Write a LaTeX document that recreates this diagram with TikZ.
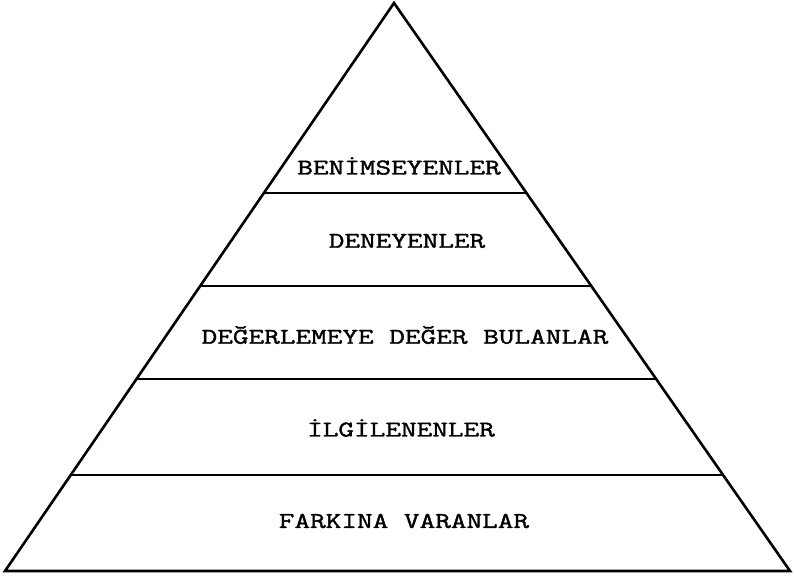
\documentclass[tikz,border=0pt]{standalone}
\usepackage{fontspec}
\usetikzlibrary{calc}
% a wide, slightly heavy typewriter face for the tier labels
\newfontfamily\tierfont{Latin Modern Mono}[FakeStretch=1.35, FakeBold=1.6]
\tikzset{
  edge/.style={line width=2.6pt, line join=miter},
  band/.style={line width=2.3pt},
  tier/.style={font=\tierfont\fontsize{22.5}{22.5}\selectfont, inner sep=0pt, anchor=center}
}
\begin{document}
\begin{tikzpicture}[x=1pt, y=-1pt]
  \useasboundingbox (0,0) rectangle (794,577);
  % outline of the pyramid
  \coordinate (apex) at (394,3);
  \coordinate (bl) at (5,571);
  \coordinate (br) at (790,571);
  \draw[edge] (bl) -- (apex) -- (br) -- cycle;
  % dividing lines between the tiers
  \foreach \t/\n in {0.3345/a, 0.4982/b, 0.662/c, 0.831/d} {
    \coordinate (l\n) at ($(apex)!\t!(bl)$);
    \coordinate (r\n) at ($(apex)!\t!(br)$);
    \draw[band] (l\n) -- (r\n);
  }
  % tier labels
  \node[tier] (t1) at (399,166) {BENİMSEYENLER};
  \node[tier] (t2) at (407,241) {DENEYENLER};
  \node[tier] (t3) at (405,335) {DEĞERLEMEYE DEĞER BULANLAR};
  \node[tier] (t4) at (401,428) {İLGİLENENLER};
  \node[tier] (t5) at (404,521) {FARKINA VARANLAR};
\end{tikzpicture}
\end{document}
